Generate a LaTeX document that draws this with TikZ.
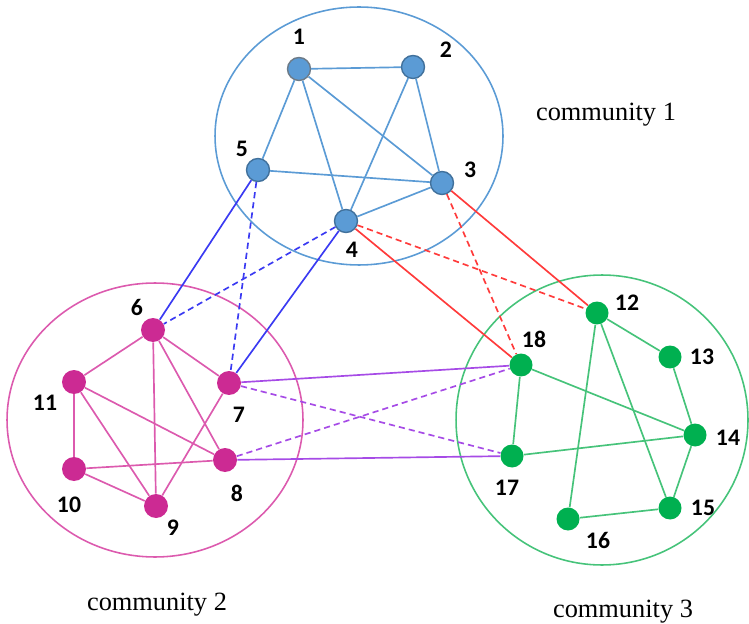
\documentclass[tikz,border=0pt]{standalone}
\usepackage{fontspec}
\setmainfont{Liberation Serif}
\newfontfamily\numfont{Carlito}
\usetikzlibrary{positioning}

\definecolor{cblue}{HTML}{5B9BD5}
\definecolor{cblueD}{HTML}{41719C}
\definecolor{xblue}{HTML}{3A3AF2}
\definecolor{xred}{HTML}{FF3B3B}
\definecolor{xpurp}{HTML}{A64BE6}
\definecolor{cmag}{HTML}{CC2A93}
\definecolor{cmagL}{HTML}{DC5AAE}
\definecolor{cgreen}{HTML}{00B050}
\definecolor{cgreenL}{HTML}{46C37A}

\begin{document}
\begin{tikzpicture}[
  x=0.02cm, y=-0.02cm,
  font=\numfont\bfseries\fontsize{13.5}{15}\selectfont,
  vtx/.style={circle,inner sep=0pt,minimum size=0.46cm},
  bnode/.style={vtx,fill=cblue,draw=cblueD,line width=0.8pt},
  mnode/.style={vtx,fill=cmag,minimum size=0.48cm},
  gnode/.style={vtx,fill=cgreen},
  lbl/.style={inner sep=0pt},
  comm/.style={font=\rmfamily\fontsize{15}{17}\selectfont,inner sep=0pt},
  ring/.style={line width=0.9pt},
  edge/.style={line width=0.95pt},
  dsh/.style={edge,dash pattern=on 3.5pt off 2.3pt}
]
\useasboundingbox (0,0) rectangle (749,624);

% ---- Communities ----
\draw[ring,cblue] (359,136) ellipse [x radius=2.88cm, y radius=2.58cm];
\draw[ring,cmagL] (155,420) ellipse [x radius=2.96cm, y radius=2.74cm];
\draw[ring,cgreenL] (602,420) ellipse [x radius=2.92cm, y radius=2.90cm];

\node[comm] (cm1) at (606,115) {community 1};
\node[comm] (cm2) at (157,605) {community 2};
\node[comm] (cm3) at (623,612) {community 3};

% ---- Vertices ----
\node[bnode,draw=gray!70!cblueD] (v1) at (299,69) {};
\node[bnode] (v2) at (413,67) {};
\node[bnode] (v3) at (442,183) {};
\node[bnode] (v4) at (346,221) {};
\node[bnode] (v5) at (258,170) {};

\node[mnode] (v6) at (153,330) {};
\node[mnode] (v7) at (229,383) {};
\node[mnode] (v8) at (225,460) {};
\node[mnode] (v9) at (156,506) {};
\node[mnode] (v10) at (74,469) {};
\node[mnode] (v11) at (74,382) {};

\node[gnode] (v12) at (597,313) {};
\node[gnode] (v13) at (670,357) {};
\node[gnode] (v14) at (695,435) {};
\node[gnode] (v15) at (670,508) {};
\node[gnode] (v16) at (568,519) {};
\node[gnode] (v17) at (512,456) {};
\node[gnode] (v18) at (521,365) {};

% ---- Labels ----
\foreach \n/\x/\y in {1/299/37,2/446/50,3/470/170,4/352/250,5/242/149,
  6/137/307,7/239/415,8/237/493,9/173/528,10/69/505,11/45/403,
  12/627/303,13/702/357,14/728/438,15/703/508,16/598/540,17/507/488,18/534/339} {
  \node[lbl] (t\n) at (\x,\y) {\n};
}

% ---- Edges inside communities ----
\foreach \a/\b in {1/2,1/5,1/4,1/3,2/4,2/3,5/3,4/3} {
  \draw[edge,cblue] (v\a) -- (v\b);
}
\foreach \a/\b in {6/11,6/9,6/8,6/7,11/10,11/9,11/8,10/8,10/9,9/7} {
  \draw[edge,cmagL] (v\a) -- (v\b);
}
\foreach \a/\b in {12/13,12/16,12/15,18/17,18/14,13/14,14/17,14/15,15/16} {
  \draw[edge,cgreenL] (v\a) -- (v\b);
}

% ---- Edges between communities ----
\draw[edge,xblue] (v5) -- (v6);
\draw[edge,xblue] (v4) -- (v7);
\draw[dsh,xblue] (v5) -- (v7);
\draw[dsh,xblue] (v4) -- (v6);

\draw[edge,xred] (v4) -- (v18);
\draw[edge,xred] (v3) -- (v12);
\draw[dsh,xred] (v4) -- (v12);
\draw[dsh,xred] (v3) -- (v18);

\draw[edge,xpurp] (v7) -- (v18);
\draw[edge,xpurp] (v8) -- (v17);
\draw[dsh,xpurp] (v7) -- (v17);
\draw[dsh,xpurp] (v8) -- (v18);

\end{tikzpicture}
\end{document}
